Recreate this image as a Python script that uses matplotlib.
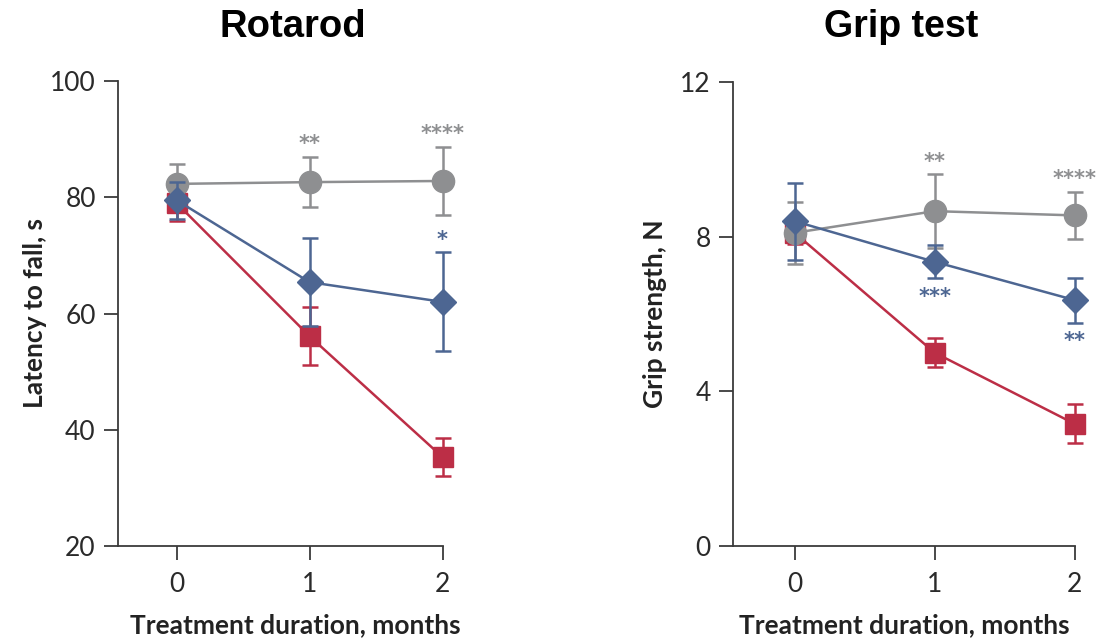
import matplotlib.pyplot as plt
import numpy as np

months = [0, 1, 2]
month_labels = ['0', '1', '2']

# Rotarod, latency to fall (s): mean and error
rot_gray = [82.3, 82.6, 82.8]
rot_gray_err = [3.5, 4.3, 5.8]
rot_blue = [79.5, 65.4, 62.0]
rot_blue_err = [3.2, 7.6, 8.5]
rot_red = [79.0, 56.1, 35.3]
rot_red_err = [3.0, 5.0, 3.3]
rot_yticks = [20, 40, 60, 80, 100]

# Grip test, grip strength (N)
grip_gray = [8.1, 8.66, 8.55]
grip_gray_err = [0.8, 0.95, 0.6]
grip_blue = [8.4, 7.35, 6.36]
grip_blue_err = [1.0, 0.43, 0.58]
grip_red = [8.1, 5.0, 3.16]
grip_red_err = [0.3, 0.38, 0.5]
grip_yticks = [0, 4, 8, 12]

# significance marks: (month, text, series)
rot_stars_above = [(1, '**', 'gray'), (2, '****', 'gray'), (2, '*', 'blue')]
grip_stars_above = [(1, '**', 'gray'), (2, '****', 'gray')]
grip_stars_below = [(1, '***', 'blue'), (2, '**', 'blue')]

GRAY = '#8e8f91'
BLUE = '#4d6692'
RED = '#bc2e46'
SPINE = '#3a3a3a'

plt.rcParams['font.family'] = ['Lato', 'DejaVu Sans']

fig = plt.figure(figsize=(10.96, 6.39), dpi=100)
W, H = 1096, 639


def make_axes(left_px, unit_px, bottom_px, top_px):
    xmin, xmax = -0.44, 2.12
    ax = fig.add_axes([left_px / W, (H - bottom_px) / H,
                       (xmax - xmin) * unit_px / W, (bottom_px - top_px) / H])
    ax.set_xlim(xmin, xmax)
    return ax


def draw(ax, series, yticks, ylabel, title, title_x, title_size):
    for vals, errs, color, marker, ms, z in series:
        ax.errorbar(months, vals, yerr=errs, color=color, marker=marker,
                    markersize=ms, lw=1.8, elinewidth=1.8, capsize=6,
                    capthick=1.8, zorder=z, clip_on=False)
    ax.set_ylim(yticks[0], yticks[-1])
    ax.set_yticks(yticks)
    ax.set_xticks(months)
    ax.set_xticklabels(month_labels)
    ax.spines['top'].set_visible(False)
    ax.spines['right'].set_visible(False)
    ax.spines['bottom'].set_bounds(-0.44, 2)
    for s in ('left', 'bottom'):
        ax.spines[s].set_color(SPINE)
        ax.spines[s].set_linewidth(1.3)
    ax.tick_params(axis='y', length=10, width=1.3, color=SPINE, pad=6,
                   labelsize=19, labelcolor='#2a2a2a')
    ax.tick_params(axis='x', length=10, width=1.3, color=SPINE, pad=9,
                   labelsize=19, labelcolor='#2a2a2a')
    ax.set_xlabel('Treatment duration, months', fontsize=19, fontweight='bold',
                  color='#222222')
    ax.set_ylabel(ylabel, fontsize=19, fontweight='bold', color='#222222')
    fig.text(title_x / W, 1 - 27 / H, title, ha='center', va='center',
             fontsize=title_size, fontweight='bold', family='Liberation Sans')


ax1 = make_axes(118, 133, 546, 81)
draw(ax1, [(rot_red, rot_red_err, RED, 's', 14, 3),
           (rot_gray, rot_gray_err, GRAY, 'o', 16, 4),
           (rot_blue, rot_blue_err, BLUE, 'D', 13, 5)],
     rot_yticks, 'Latency to fall, s', 'Rotarod', 293, 27.5)
ax1.xaxis.set_label_coords(0.522, -0.145)
ax1.yaxis.set_label_coords(-0.208, 0.5)

ax2 = make_axes(733, 140, 546, 82)
draw(ax2, [(grip_red, grip_red_err, RED, 's', 14, 3),
           (grip_gray, grip_gray_err, GRAY, 'o', 16, 4),
           (grip_blue, grip_blue_err, BLUE, 'D', 13, 5)],
     grip_yticks, 'Grip strength, N', 'Grip test', 901, 27)
ax2.xaxis.set_label_coords(0.479, -0.145)
ax2.yaxis.set_label_coords(-0.184, 0.5)

colors = {'gray': GRAY, 'blue': BLUE}
rot_data = {'gray': (rot_gray, rot_gray_err), 'blue': (rot_blue, rot_blue_err)}
grip_data = {'gray': (grip_gray, grip_gray_err), 'blue': (grip_blue, grip_blue_err)}

for ax, marks, data in [(ax1, rot_stars_above, rot_data), (ax2, grip_stars_above, grip_data)]:
    for m, txt, key in marks:
        vals, errs = data[key]
        ax.annotate(txt, (m, vals[m] + errs[m]), xytext=(0, 2),
                    textcoords='offset points', ha='center', va='bottom',
                    fontsize=15, fontweight='bold', color=colors[key],
                    family='DejaVu Sans', annotation_clip=False)

for m, txt, key in grip_stars_below:
    vals, errs = grip_data[key]
    ax2.annotate(txt, (m, vals[m] - errs[m]), xytext=(0, -6),
                 textcoords='offset points', ha='center', va='top',
                 fontsize=15, fontweight='bold', color=colors[key],
                 family='DejaVu Sans', annotation_clip=False)

fig.savefig('out.png', dpi=100)
